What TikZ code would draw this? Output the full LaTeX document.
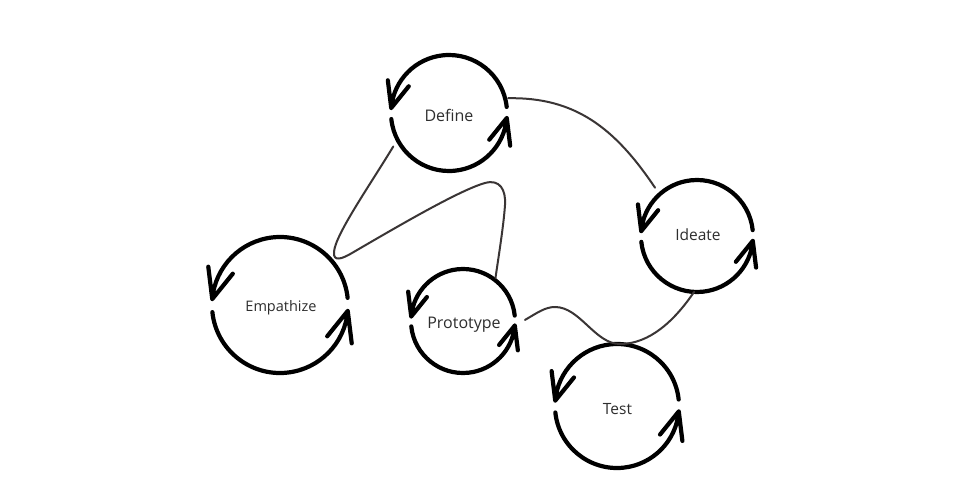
\documentclass[tikz,border=0pt]{standalone}
\usepackage{fontspec}
\setmainfont{Open Sans}
\usetikzlibrary{calc}
\definecolor{txtgray}{HTML}{2E2E2E}
\definecolor{linkgray}{HTML}{3A3535}
\tikzset{
  cycnode/.style={circle, draw=none, inner sep=0pt},
  cyclabel/.style={anchor=base, inner sep=0pt, text=txtgray},
  cycline/.style={line width=4.2pt, line cap=round, line join=round, draw=black},
  link/.style={line width=2pt, draw=linkgray, line cap=round},
}
% name, x, y, radius, label x, label baseline y, font size, text
\newcommand\mycyc[8]{%
  \node[cycnode, minimum size=#4*2pt] (#1) at (#2,-#3) {};
  \node[cyclabel, font=\fontsize{#7}{#7}\selectfont] (#1-label) at (#5,-#6) {#8};
  \draw[cycline] ($(#1.center)+(6:#4)$) arc[start angle=6, end angle=175, radius=#4]
     coordinate (#1-a) -- ++(97:0.48*#4) (#1-a) -- ++(51:0.48*#4);
  \draw[cycline] ($(#1.center)+(186:#4)$) arc[start angle=186, end angle=355, radius=#4]
     coordinate (#1-b) -- ++(277:0.48*#4) (#1-b) -- ++(231:0.48*#4);
}
\begin{document}
\begin{tikzpicture}[x=1pt,y=1pt]
\useasboundingbox (0,0) rectangle (968,-492);
\fill[white] (0,0) rectangle (968,-492);

\mycyc{define}{449}{113}{58}{449}{121.7}{16}{Define}
\mycyc{empathize}{280}{305}{68}{281}{311.7}{14.5}{Empathize}
\mycyc{ideate}{697}{236}{56}{698}{240.7}{15.5}{Ideate}
\mycyc{prototype}{463}{321}{52}{464}{328.3}{16}{Prototype}
\mycyc{test}{617}{406}{62}{617.5}{414}{15.5}{Test}

% Define -> Ideate
\draw[link] ($(define.center)+(14:61)$) .. controls (575,-97) and (615,-128) .. ($(ideate.center)+(131:64)$);

% Define -> (near Empathize) -> Prototype
\draw[link] ($(define.center)+(211:65)$)
  .. controls (370,-185) and (335,-235) .. (334,-252)
  .. controls (333,-262) and (342,-259) .. (352,-253)
  .. controls (400,-225) and (460,-190) .. (485,-183)
  .. controls (500,-178.8) and (506,-190) .. (505,-205)
  .. controls (503.5,-227) and (498,-260) .. ($(prototype.center)+(53:54)$);

% Prototype -> (over Test) -> Ideate
\draw[link] ($(prototype.center)+(1:62)$)
  .. controls (537,-313) and (545,-307) .. (555,-307)
  .. controls (580,-307) and (595,-344) .. (620,-344)
  .. controls (650,-344) and (675,-320) .. ($(ideate.center)+(267:56)$);
\end{tikzpicture}
\end{document}
